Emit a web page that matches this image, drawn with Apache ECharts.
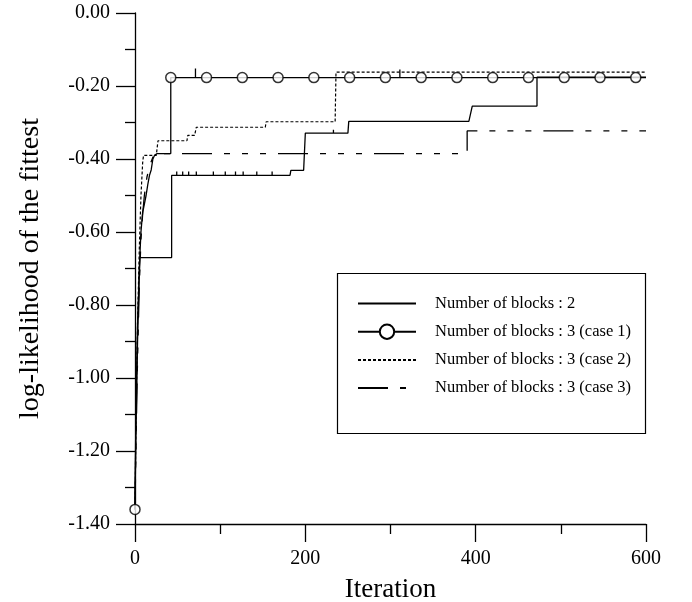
<!DOCTYPE html>
<html>
<head>
<meta charset="utf-8">
<script src="https://cdn.jsdelivr.net/npm/echarts@6/dist/echarts.min.js"></script>
<style>
  html, body { margin: 0; padding: 0; background: #fff; }
  #chart { width: 692px; height: 602px; }
</style>
</head>
<body>
<div id="chart"></div>
<script>
// 各系列的数据 [iteration, log-likelihood]
const blocks2 = [
  [0, -1.36], [1, -1.1], [3, -0.85], [5, -0.72], [6, -0.67], [43, -0.67], [43, -0.445],
  [49, -0.445], [49, -0.434], [49, -0.445], [56, -0.445], [56, -0.434], [56, -0.445],
  [63, -0.445], [63, -0.434], [63, -0.445], [72, -0.445], [72, -0.434], [72, -0.445],
  [92, -0.445], [92, -0.434], [92, -0.445], [106, -0.445], [106, -0.434], [106, -0.445],
  [118, -0.445], [118, -0.434], [118, -0.445], [127, -0.445], [127, -0.434], [127, -0.445],
  [143, -0.445], [143, -0.434], [143, -0.445], [161, -0.445], [161, -0.434], [161, -0.445],
  [182, -0.445], [183, -0.431], [198, -0.431], [200, -0.329], [233, -0.329], [233, -0.32],
  [233, -0.329], [250, -0.329], [251, -0.297], [392, -0.297], [396, -0.255], [472, -0.255],
  [472, -0.176], [600, -0.176]
]
const blocks3case1 = [
  [0, -1.36], [1, -1.15], [3, -0.9], [5, -0.7], [7, -0.6], [9, -0.545], [10, -0.535],
  [12, -0.53], [13, -0.5], [15, -0.47], [17, -0.445], [19, -0.43], [21, -0.4], [23, -0.39],
  [26, -0.385], [42, -0.385], [42, -0.177], [71, -0.177], [71, -0.152], [71, -0.177],
  [311, -0.177], [311, -0.155], [311, -0.177], [600, -0.177]
]
const case1MarkIter = [0, 42, 84, 126, 168, 210, 252, 294, 336, 378, 420, 462, 504, 546, 588]
const case1MarkVal = [-1.36, -0.177, -0.177, -0.177, -0.177, -0.177, -0.177, -0.177,
  -0.177, -0.177, -0.177, -0.177, -0.177, -0.177, -0.177]
const blocks3case2 = [
  [0, -1.36], [1, -1.15], [3, -0.85], [5, -0.65], [7, -0.5], [9, -0.41], [10, -0.39],
  [25, -0.39], [27, -0.35], [61, -0.35], [62, -0.335], [70, -0.335], [72, -0.313],
  [153, -0.313], [154, -0.298], [235, -0.298], [236, -0.162], [600, -0.162]
]
const blocks3case3 = [
  [0, -1.36], [1, -1.2], [3, -0.95], [5, -0.75], [7, -0.62], [9, -0.55], [11, -0.5],
  [14, -0.45], [17, -0.42], [21, -0.395], [26, -0.385], [390, -0.385], [390, -0.323],
  [600, -0.323]
]
const seriesNames = [
  'Number of blocks : 2',
  'Number of blocks : 3 (case 1)',
  'Number of blocks : 3 (case 2)',
  'Number of blocks : 3 (case 3)'
]

const font = 'Liberation Serif'
const chart = echarts.init(document.getElementById('chart'))

const lineBase = {
  type: 'line',
  symbol: 'none',
  silent: true,
  color: '#000'
}

// 没有标记的系列在图例里不显示圆点
const legendData = seriesNames.map((name, i) => {
  if (i === 1) return { name: name }
  return { name: name, itemStyle: { opacity: 0 } }
})

const option = {
  animation: false,
  backgroundColor: '#fff',
  textStyle: { fontFamily: font, color: '#000' },
  grid: { left: 135, right: 46, top: 13, bottom: 78, containLabel: false, outerBoundsMode: 'none' },
  // 图例外框
  graphic: [{
    type: 'rect',
    left: 335,
    top: 271,
    shape: { width: 308, height: 160 },
    style: { fill: 'none', stroke: '#000', lineWidth: 1.2 }
  }],
  legend: {
    orient: 'vertical',
    left: 357,
    top: 295,
    padding: 0,
    itemWidth: 58,
    itemHeight: 18,
    itemGap: 11.2,
    selectedMode: false,
    data: legendData,
    textStyle: { fontFamily: font, fontSize: 16.5, color: '#000', padding: [0, 0, 0, 14] }
  },
  xAxis: {
    type: 'value',
    min: 0,
    max: 600,
    interval: 200,
    name: 'Iteration',
    nameLocation: 'middle',
    nameGap: 52,
    nameTextStyle: { fontFamily: font, fontSize: 27, color: '#000' },
    axisLine: { onZero: false, lineStyle: { color: '#000', width: 1.3 } },
    axisTick: { length: 18, lineStyle: { color: '#000', width: 1.3 } },
    minorTick: { show: true, splitNumber: 2, length: 10, lineStyle: { color: '#000', width: 1.3 } },
    axisLabel: { margin: 25, fontFamily: font, fontSize: 20, color: '#000' },
    splitLine: { show: false }
  },
  yAxis: {
    type: 'value',
    min: -1.4,
    max: 0,
    interval: 0.2,
    name: 'log-likelihood of the fittest',
    nameLocation: 'middle',
    nameRotate: 90,
    nameGap: 90,
    nameTextStyle: { fontFamily: font, fontSize: 28, color: '#000' },
    axisLine: { show: true, onZero: false, lineStyle: { color: '#000', width: 1.3 } },
    axisTick: { show: true, length: 19, lineStyle: { color: '#000', width: 1.3 } },
    minorTick: { show: true, splitNumber: 2, length: 10, lineStyle: { color: '#000', width: 1.3 } },
    axisLabel: {
      margin: 25,
      fontFamily: font,
      fontSize: 20,
      color: '#000',
      formatter: (v) => v.toFixed(2)
    },
    splitLine: { show: false }
  },
  series: [
    Object.assign({}, lineBase, {
      name: seriesNames[0],
      data: blocks2,
      lineStyle: { color: '#000', width: 1.3 }
    }),
    Object.assign({}, lineBase, {
      name: seriesNames[1],
      data: blocks3case1,
      symbol: 'emptyCircle',
      showSymbol: false,
      itemStyle: { color: '#000', borderWidth: 1.5 },
      lineStyle: { color: '#000', width: 1.3 }
    }),
    Object.assign({}, lineBase, {
      name: seriesNames[2],
      data: blocks3case2,
      lineStyle: { color: '#000', width: 1.2, type: [3, 2] }
    }),
    Object.assign({}, lineBase, {
      name: seriesNames[3],
      data: blocks3case3,
      lineStyle: { color: '#000', width: 1.3, type: [30, 12, 6, 12, 6, 12, 6, 12] }
    }),
    {
      // 情况1的圆圈标记
      type: 'scatter',
      silent: true,
      symbol: 'circle',
      symbolSize: 10,
      itemStyle: { color: '#fff', borderColor: '#000', borderWidth: 1.5 },
      z: 5,
      data: case1MarkIter.map((it, i) => [it, case1MarkVal[i]])
    }
  ]
}
chart.setOption(option)
</script>
</body>
</html>
